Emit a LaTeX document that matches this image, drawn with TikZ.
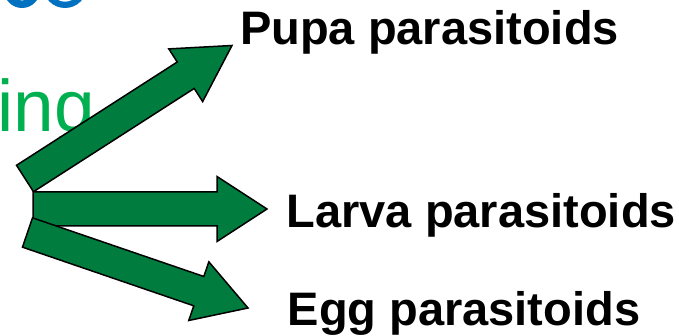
\documentclass[tikz,border=0pt]{standalone}
\usepackage{fontspec}
\setmainfont{Liberation Sans}
\usetikzlibrary{calc}
\definecolor{arrowgreen}{RGB}{0,125,62}
\definecolor{textgreen}{RGB}{0,176,80}
\definecolor{textblue}{RGB}{0,112,192}
\tikzset{
  barrow/.style={fill=arrowgreen, draw=black, line width=1.5pt, line join=miter},
  lbl/.style={inner sep=0pt, font=\bfseries\fontsize{47}{56}\selectfont, text=black},
  partword/.style={inner sep=0pt, font=\fontsize{73}{88}\selectfont, text=textgreen}
}
\newcommand{\myblockarrow}[5]{%
  \coordinate (#1b) at ($(#2)!#5!(#1)$);
  \filldraw[barrow] ($(#1)!#3!90:(#2)$) -- ($(#1b)!#3!-90:(#1)$) -- ($(#1b)!#4!-90:(#1)$) -- (#2)
    -- ($(#1b)!#4!90:(#1)$) -- ($(#1b)!#3!90:(#1)$) -- ($(#1)!#3!-90:(#2)$) -- cycle;}
\begin{document}
\begin{tikzpicture}[x=1pt,y=-1pt]
\useasboundingbox (0,0) rectangle (679,336);
\clip (0,0) rectangle (679,336);
% partial blue letters cut at the top edge
\fill[textblue, even odd rule] (22,-10) circle[radius=18pt] (22,-10) circle[radius=10.6pt];
\fill[textblue, even odd rule] (65,-14) circle[radius=22pt] (65,-14) circle[radius=15.7pt];
% partial green word
\node[partword, anchor=base east] (word) at (95,132) {ing};
% labels
\node[lbl, anchor=base west] (pupa) at (240,45) {Pupa parasitoids};
\node[lbl, anchor=base west] (larva) at (286.5,228) {Larva parasitoids};
\node[lbl, anchor=base west] (egg) at (287.5,325) {Egg parasitoids};
% arrow tails and tips
\coordinate (pt) at (25,178.5);
\coordinate (ph) at (232,45.5);
\coordinate (lt) at (33,209);
\coordinate (lh) at (267,209);
\coordinate (et) at (27.5,232.5);
\coordinate (eh) at (248,308);
\myblockarrow{pt}{ph}{15.7pt}{31.3pt}{55pt}
\myblockarrow{lt}{lh}{17pt}{32.5pt}{50pt}
\myblockarrow{et}{eh}{15.5pt}{31pt}{52pt}
\end{tikzpicture}
\end{document}
